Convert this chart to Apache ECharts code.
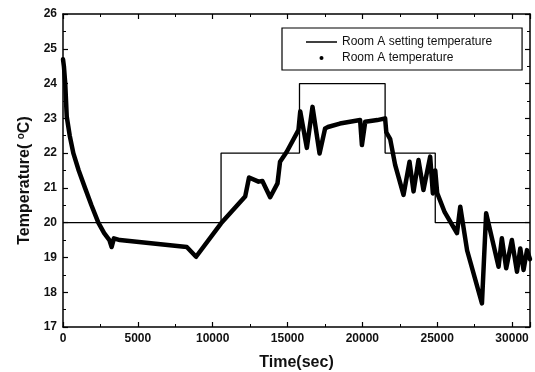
<!DOCTYPE html>
<html>
<head>
<meta charset="utf-8">
<script src="https://cdn.jsdelivr.net/npm/echarts@6/dist/echarts.min.js"></script>
<style>
  html, body { margin: 0; padding: 0; background: #fff; }
  #chart { width: 535px; height: 372px; }
</style>
</head>
<body>
<div id="chart"></div>
<script>
// Setpoint schedule (step profile)
const setTime = [0, 10560, 10560, 15800, 15800, 21520, 21520, 24870, 24870, 31200];
const setTemp = [20, 20, 22, 22, 24, 24, 22, 22, 20, 20];

// Measured room temperature
const roomTime = [0, 60, 150, 250, 450, 690, 1050, 1470, 1900, 2360, 2750, 3100, 3250, 3400, 3800,
  8270, 8890, 10560, 12170, 12430, 13060, 13320, 13840, 14330, 14500, 14950, 15730, 15850,
  16290, 16670, 17140, 17510, 17700, 18500, 19850, 19970, 20190, 21000, 21520, 21600, 21860,
  22190, 22750, 23150, 23420, 23750, 24080, 24530, 24710, 24870, 25000, 25500, 26320, 26540,
  27000, 27990, 28270, 29100, 29320, 29610, 29990, 30330, 30550, 30770, 31000, 31200];
const roomTemp = [24.7, 24.5, 24.0, 23.05, 22.5, 22.0, 21.5, 21.0, 20.5, 20.0, 19.7, 19.5, 19.3, 19.55, 19.5,
  19.3, 19.02, 19.98, 20.75, 21.3, 21.18, 21.2, 20.73, 21.13, 21.75, 22.04, 22.66, 23.2,
  22.15, 23.33, 21.99, 22.71, 22.75, 22.85, 22.95, 22.23, 22.9, 22.95, 23.0, 22.6, 22.4,
  21.66, 20.8, 21.75, 20.9, 21.8, 20.94, 21.9, 20.84, 21.5, 20.85, 20.3, 19.7, 20.46,
  19.2, 17.68, 20.27, 18.73, 19.55, 18.69, 19.5, 18.59, 19.26, 18.64, 19.21, 18.95];

// Axis ranges and tick steps
const xRange = [0, 31200, 5000];
const yRange = [17, 26, 1];

const setData = setTime.map((t, i) => [t, setTemp[i]]);
const roomData = roomTime.map((t, i) => [t, roomTemp[i]]);

const font = 'Liberation Sans, Arial, sans-serif';
const frame = { show: true, onZero: false, lineStyle: { color: '#000', width: 1.5 } };

function xAx(pos, labels) {
  return {
    type: 'value', position: pos, min: xRange[0], max: xRange[1], interval: xRange[2],
    axisLine: frame,
    axisTick: { show: true, inside: true, length: 5, lineStyle: { color: '#000', width: 1.2 } },
    minorTick: { show: true, splitNumber: 2, length: 3, lineStyle: { color: '#000', width: 1 } },
    splitLine: { show: false },
    axisLabel: { show: labels, color: '#111', fontFamily: font, fontWeight: 'bold', fontSize: 12, margin: 6,
      showMaxLabel: false, formatter: v => String(v) }
  };
}
function yAx(pos, labels) {
  return {
    type: 'value', position: pos, min: yRange[0], max: yRange[1], interval: yRange[2],
    axisLine: frame,
    axisTick: { show: true, inside: true, length: 5, lineStyle: { color: '#000', width: 1.2 } },
    minorTick: { show: true, splitNumber: 2, length: 3, lineStyle: { color: '#000', width: 1 } },
    splitLine: { show: false },
    axisLabel: { show: labels, color: '#111', fontFamily: font, fontWeight: 'bold', fontSize: 12, margin: 6 }
  };
}

const xBottom = Object.assign(xAx('bottom', true), {
  name: 'Time(sec)', nameLocation: 'middle', nameGap: 28,
  nameTextStyle: { color: '#111', fontFamily: font, fontWeight: 'bold', fontSize: 16 }
});
const yLeft = Object.assign(yAx('left', true), {
  name: 'Temperature( {sup|o}C)', nameLocation: 'middle', nameGap: 30,
  nameTextStyle: { color: '#111', fontFamily: font, fontWeight: 'bold', fontSize: 16,
    padding: [0, 20, 0, 0],
    rich: { sup: { fontFamily: font, fontWeight: 'bold', fontSize: 10, verticalAlign: 'top', padding: [0, 0, 7, 0] } } }
});

const chart = echarts.init(document.getElementById('chart'), null, { renderer: 'canvas' });
chart.setOption({
  animation: false,
  backgroundColor: '#fff',
  grid: { left: 63, top: 14, right: 5, bottom: 45, outerBoundsMode: 'none', containLabel: false },
  xAxis: [xBottom, xAx('top', false)],
  yAxis: [yLeft, yAx('right', false)],
  legend: {
    orient: 'vertical',
    left: 282, top: 28,
    padding: [8, 30, 6, 24],
    itemGap: 4,
    itemWidth: 31, itemHeight: 4,
    borderColor: '#000', borderWidth: 1.2,
    textStyle: { color: '#111', fontFamily: font, fontSize: 12 },
    data: [
      { name: 'Room A setting temperature', icon: 'path://M0,0H62V3H0Z' },
      { name: 'Room A temperature', icon: 'circle' }
    ]
  },
  series: [
    {
      name: 'Room A setting temperature', type: 'line', data: setData,
      xAxisIndex: 0, yAxisIndex: 0, symbol: 'none',
      lineStyle: { color: '#000', width: 1.3 }, itemStyle: { color: '#000' }, z: 2
    },
    {
      name: 'Room A temperature', type: 'line', data: roomData,
      xAxisIndex: 0, yAxisIndex: 0, symbol: 'none',
      lineStyle: { color: '#000', width: 4.5, join: 'round', cap: 'round' }, itemStyle: { color: '#000' }, z: 3
    }
  ]
});
</script>
</body>
</html>
